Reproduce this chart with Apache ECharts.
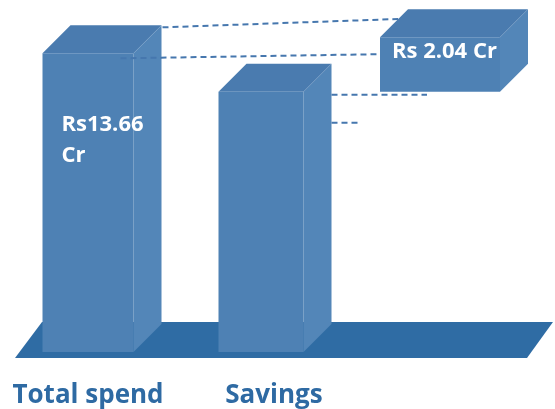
<!DOCTYPE html>
<html><head><meta charset="utf-8">
<script src="https://cdn.jsdelivr.net/npm/echarts@6/dist/echarts.min.js"></script>
<style>html,body{margin:0;padding:0;background:#fff}#c{width:555px;height:409px}</style>
</head><body><div id="c"></div>
<script>
// ---- data ----
const categories = ['Total spend', 'Savings', ''];
const barValues = [13.66, 11.9];
const barLabels = ['Rs13.66\nCr', ''];
const savingsRange = [11.9, 14.4];
const savingsLabel = ['Rs 2.04 Cr'];

// ---- styles ----
const FONT = '"Open Sans", "Liberation Sans", sans-serif';
const C = {front:'#4e81b4', top:'#4a7baf', side:'#5386b8', floor:'#2f6ca4', text:'#2e6aa3', dash:'#4677ae'};
const DEPTH = 28;
const widthPx = [91, 85, 120];
const nudge = [0, -3, 0];

function box3d(xl, xr, yTop, yBot) {
  const d = DEPTH;
  return [
    {type:'polygon', shape:{points:[[xl,yTop],[xr,yTop],[xr+d,yTop-d],[xl+d,yTop-d]]}, style:{fill:C.top}},
    {type:'polygon', shape:{points:[[xr,yTop],[xr+d,yTop-d],[xr+d,yBot-d],[xr,yBot]]}, style:{fill:C.side}},
    {type:'rect', shape:{x:xl,y:yTop,width:xr-xl,height:yBot-yTop}, style:{fill:C.front}}
  ];
}
function barGeom(api, i, v) {
  const t = api.coord([i, v]);
  const b = api.coord([i, 0]);
  const cx = t[0] + nudge[i];
  return {xl: cx - widthPx[i]/2, xr: cx + widthPx[i]/2, top: t[1], bot: b[1]};
}
function dash(x1,y1,x2,y2){
  return {type:'line', shape:{x1,y1,x2,y2}, style:{stroke:C.dash, lineWidth:2, lineDash:[6,4]}};
}

const chart = echarts.init(document.getElementById('c'), null, {renderer:'canvas'});
chart.setOption({
  animation:false,
  grid:{left:0, right:27, top:0, bottom:57, containLabel:false},
  xAxis:{type:'category', data:categories, axisLine:{show:false}, axisTick:{show:false},
    axisLabel:{interval:0, margin:31, color:C.text, fontFamily:FONT, fontWeight:'bold', fontSize:26,
      formatter:(v)=> v==='Savings' ? '{s|'+v+'}' : v,
      rich:{s:{padding:[0,0,0,20], color:C.text, fontFamily:FONT, fontWeight:'bold', fontSize:26}}}},
  yAxis:{type:'value', min:0, max:16.1, show:false, splitLine:{show:false}},
  series:[
    {type:'custom', z:1, data:[[0]], silent:true,
     renderItem:(params, api)=>{
       const cs = params.coordSys;
       const base = api.coord([0,0])[1];
       return {type:'polygon', shape:{points:[[cs.x+15, base+6],[cs.x+cs.width-1, base+6],[cs.x+cs.width+25, base-30],[cs.x+42, base-30]]}, style:{fill:C.floor}};
     }},
    {type:'custom', z:2, data:barValues.map((v,i)=>[i,v]),
     renderItem:(params, api)=>{
       const i = api.value(0);
       const g = barGeom(api, i, api.value(1));
       const ch = box3d(g.xl, g.xr, g.top, g.bot);
       if (barLabels[i]) ch.push({type:'text', style:{text:barLabels[i], x:g.xl+19, y:g.top+56, font:'bold 22px '+FONT, fill:'#fff', lineHeight:31, align:'left', verticalAlign:'top'}});
       return {type:'group', children:ch};
     }},
    {type:'custom', z:3, data:[[2, savingsRange[0], savingsRange[1]]],
     renderItem:(params, api)=>{
       const i = api.value(0);
       const lo = api.coord([i, api.value(1)]);
       const hi = api.coord([i, api.value(2)]);
       const cx = lo[0] + nudge[i];
       const xl = cx - widthPx[i]/2, xr = cx + widthPx[i]/2;
       const yTop = hi[1], yBot = lo[1];
       const b1 = barGeom(api, 0, barValues[0]);
       const b2 = barGeom(api, 1, barValues[1]);
       const ch = [
         dash(b1.xr+DEPTH+1, b1.top-DEPTH+2, xl+0.65*DEPTH, yTop-0.65*DEPTH),
         dash(b1.xr-13, b1.top+5, xl, yTop+17),
         dash(b2.xr+DEPTH, b2.top+3, xl+47, b2.top+3),
         dash(b2.xr+DEPTH, b2.top+31, b2.xr+DEPTH+28, b2.top+31)
       ].concat(box3d(xl, xr, yTop, yBot));
       ch.push({type:'text', style:{text:savingsLabel[0], x:xl+12, y:yTop+15, font:'bold 22px '+FONT, fill:'#fff', align:'left', verticalAlign:'middle'}});
       return {type:'group', children:ch};
     }}
  ]
});
</script></body></html>
